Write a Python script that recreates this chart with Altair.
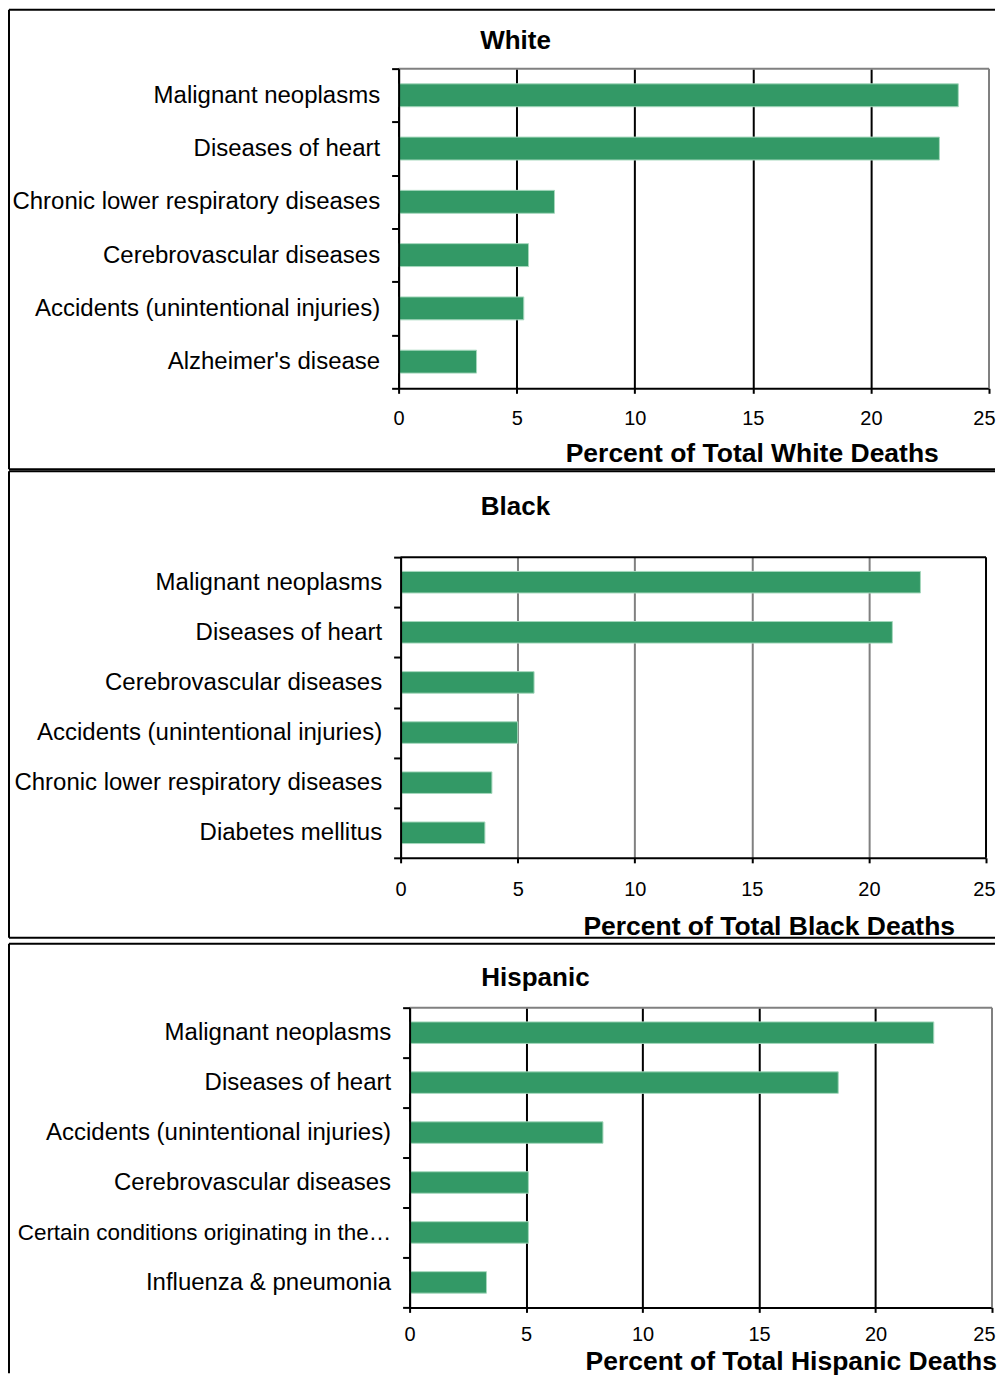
import altair as alt
import pandas as pd

FONT = "Liberation Sans"
BAR_COLOR = "#339966"
BAR_EDGE = "#a6d8bd"

x_ticks = [0, 5, 10, 15, 20, 25]

white_causes = [
    "Malignant neoplasms",
    "Diseases of heart",
    "Chronic lower respiratory diseases",
    "Cerebrovascular diseases",
    "Accidents (unintentional injuries)",
    "Alzheimer's disease",
]
white_pct = [23.7, 22.9, 6.6, 5.5, 5.3, 3.3]

black_causes = [
    "Malignant neoplasms",
    "Diseases of heart",
    "Cerebrovascular diseases",
    "Accidents (unintentional injuries)",
    "Chronic lower respiratory diseases",
    "Diabetes mellitus",
]
black_pct = [22.2, 21.0, 5.7, 5.0, 3.9, 3.6]

hisp_causes = [
    "Malignant neoplasms",
    "Diseases of heart",
    "Accidents (unintentional injuries)",
    "Cerebrovascular diseases",
    "Certain conditions originating in the perinatal period",
    "Influenza & pneumonia",
]
hisp_pct = [22.5, 18.4, 8.3, 5.1, 5.1, 3.3]

titles = ["White", "Black", "Hispanic"]
axis_titles = [
    "Percent of Total White Deaths",
    "Percent of Total Black Deaths",
    "Percent of Total Hispanic Deaths",
]

BOX_LEFT = -390   # outer frame left edge, relative to the shared plot origin
BOX_RIGHT = 597   # outer frame lines run to the right edge of the page


def panel(causes, pct, title, axis_title, shift, pw, h, grid_color, frame_color,
          title_xy, axis_title_xy, x_label_pad, last_label_off,
          box_top, box_bottom=None, spacer=None, left_end=None):
    right = shift + pw
    df = pd.DataFrame({"cause": causes, "pct": pct})
    bars = alt.Chart(df).mark_bar(
        color=BAR_COLOR, height=alt.RelativeBandSize(0.43),
        stroke=BAR_EDGE, strokeWidth=1
    ).encode(
        x=alt.X(
            "pct:Q",
            scale=alt.Scale(domain=[0, 25], nice=False, zero=True, range=[shift, right]),
            axis=alt.Axis(
                values=x_ticks, title=None, grid=True, gridColor=grid_color,
                gridWidth=2,
                gridOpacity={"condition": {"test": "datum.value >= 25", "value": 0}, "value": 1},
                domainColor="black", domainWidth=2, tickColor="black",
                tickWidth=2, tickSize=5, labelFont=FONT, labelFontSize=20,
                labelColor="black", labelPadding=x_label_pad, labelFlush=False,
                labelAlign={"condition": {"test": "datum.value >= 25", "value": "right"}, "value": "center"},
                labelOffset={"condition": {"test": "datum.value >= 25", "value": last_label_off}, "value": 0},
            ),
        ),
        y=alt.Y(
            "cause:N", sort=causes,
            scale=alt.Scale(paddingInner=0, paddingOuter=0),
            axis=alt.Axis(
                title=None, tickBand="extent", tickSize=7, tickWidth=2,
                tickColor="black", domainColor="black", domainWidth=2,
                labelFont=FONT,
                labelFontSize={"condition": {"test": "length(datum.label) > 40", "value": 22.5}, "value": 24},
                labelColor="black",
                labelPadding=12, labelLimit=376, zindex=1, offset=-shift,
            ),
        ),
    )

    one = pd.DataFrame({"k": [0]})
    layers = []
    if spacer is not None:
        layers.append(
            alt.Chart(one).mark_rule(color="white", strokeWidth=2).encode(
                x=alt.value(BOX_LEFT), x2=alt.value(BOX_RIGHT), y=alt.value(spacer)
            )
        )
    bottom_end = box_bottom if box_bottom is not None else left_end
    layers += [
        alt.Chart(one).mark_rule(color="black", strokeWidth=2).encode(
            x=alt.value(BOX_LEFT), x2=alt.value(BOX_RIGHT), y=alt.value(box_top)),
        alt.Chart(one).mark_rule(color="black", strokeWidth=2).encode(
            x=alt.value(BOX_LEFT), y=alt.value(box_top), y2=alt.value(bottom_end)),
    ]
    if box_bottom is not None:
        layers.append(
            alt.Chart(one).mark_rule(color="black", strokeWidth=2).encode(
                x=alt.value(BOX_LEFT), x2=alt.value(BOX_RIGHT), y=alt.value(box_bottom))
        )

    # plot frame (top and right edges)
    layers += [
        alt.Chart(one).mark_rule(color=frame_color, strokeWidth=2).encode(
            x=alt.value(shift), x2=alt.value(right), y=alt.value(0)),
        alt.Chart(one).mark_rule(color=frame_color, strokeWidth=2).encode(
            x=alt.value(right), y=alt.value(0), y2=alt.value(h)),
    ]

    layers.append(bars)

    tdf = pd.DataFrame({"t": [title]})
    layers.append(
        alt.Chart(tdf).mark_text(
            font=FONT, fontSize=26, fontWeight="bold", color="black",
            align="center", baseline="alphabetic"
        ).encode(text="t:N", x=alt.value(title_xy[0]), y=alt.value(title_xy[1]))
    )
    adf = pd.DataFrame({"t": [axis_title]})
    layers.append(
        alt.Chart(adf).mark_text(
            font=FONT, fontSize=26.5, fontWeight="bold", color="black",
            align="center", baseline="alphabetic"
        ).encode(text="t:N", x=alt.value(axis_title_xy[0]), y=alt.value(axis_title_xy[1]))
    )

    return alt.layer(*layers).properties(
        width=right, height=h,
        view=alt.ViewBackground(strokeWidth=0),
    )


# all panel groups share the same left origin (page x = 399)
p1 = panel(white_causes, white_pct, titles[0], axis_titles[0], 0, 591, 320,
           "black", "#808080", (117, -20), (354, 394), 15, 6,
           box_top=-59, box_bottom=401)
p2 = panel(black_causes, black_pct, titles[1], axis_titles[1], 2, 586, 301,
           "#808080", "black", (117, -42), (371, 378), 17, 9,
           box_top=-86, box_bottom=381)
p3 = panel(hisp_causes, hisp_pct, titles[2], axis_titles[2], 11, 583, 300,
           "black", "#808080", (137, -22), (393, 363), 12.5, 3,
           box_top=-64, spacer=-66, left_end=366)

chart = alt.vconcat(p1, p2, p3, spacing=0).properties(
    padding={"left": 0, "top": 0, "right": 0, "bottom": 0},
    background="white",
).configure(font=FONT)

chart.save("out.html", embed_options={"renderer": "svg", "actions": False})
